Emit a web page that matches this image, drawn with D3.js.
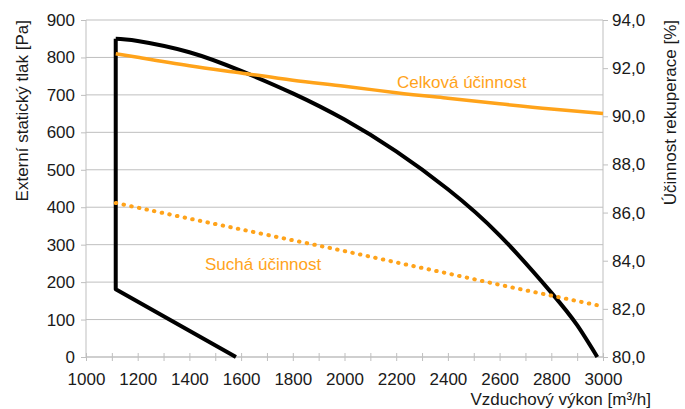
<!DOCTYPE html>
<html>
<head>
<meta charset="utf-8">
<script src="https://cdn.jsdelivr.net/npm/d3@7"></script>
<style>
  body { margin: 0; background: #fff; }
  text { font-family: "Liberation Sans", Arial, sans-serif; }
</style>
</head>
<body>
<script>
// chart data
const flowTicks = [1000, 1100, 1200, 1300, 1400, 1500, 1600, 1700, 1800, 1900, 2000,
                   2100, 2200, 2300, 2400, 2500, 2600, 2700, 2800, 2900, 3000];
const pressureTicks = [0, 100, 200, 300, 400, 500, 600, 700, 800, 900];
const effTicks = [80, 82, 84, 86, 88, 90, 92, 94];

// fan curve (black), flow [m3/h] vs pressure [Pa]
const fanFlow     = [1115, 1200, 1400, 1600, 1800, 2000, 2200, 2400, 2600, 2800, 2900, 2978];
const fanPressure = [850,  844,  814,  764,  704,  634,  549,  448,  325,  172,  85,   0];

// lower boundary (black)
const limitFlow     = [1115, 1115, 1580];
const limitPressure = [850,  181,  0];

// total efficiency (solid orange) [%]
const totalFlow = [1115, 1200, 1400, 1600, 1800, 2000, 2200, 2400, 2600, 2800, 3000];
const totalEff  = [92.6, 92.45, 92.1, 91.8, 91.5, 91.25, 90.98, 90.75, 90.52, 90.3, 90.12];

// dry efficiency (dotted orange) [%]
const dryFlow = [1115, 1400, 1600, 1800, 2000, 2200, 2400, 2600, 2800, 3000];
const dryEff  = [86.4, 85.75, 85.3, 84.85, 84.4, 83.93, 83.47, 83.0, 82.55, 82.1];

const width = 685, height = 409;
const margin = {left: 86, right: 82, top: 20, bottom: 52};
const grey = "#bfbfbf", ink = "#1a1a1a", orange = "#ffa31a";
const fs = 17;

const svg = d3.select("body").append("svg")
    .attr("width", width).attr("height", height);

const x = d3.scaleLinear().domain([1000, 3000]).range([margin.left, width - margin.right]);
const yL = d3.scaleLinear().domain([0, 900]).range([height - margin.bottom, margin.top]);
const yR = d3.scaleLinear().domain([80, 94]).range([height - margin.bottom, margin.top]);

// horizontal gridlines
svg.append("g").selectAll("line").data(pressureTicks).enter().append("line")
    .attr("x1", x(1000)).attr("x2", x(3000))
    .attr("y1", d => yL(d)).attr("y2", d => yL(d))
    .attr("stroke", grey).attr("stroke-width", 1);

// left axis
const gL = svg.append("g").attr("transform", "translate(" + x(1000) + ",0)")
    .call(d3.axisLeft(yL).tickValues(pressureTicks).tickSize(5).tickPadding(6));
// right axis
const gR = svg.append("g").attr("transform", "translate(" + x(3000) + ",0)")
    .call(d3.axisRight(yR).tickValues(effTicks).tickSize(5).tickPadding(4)
        .tickFormat(d => d3.format(".1f")(d).replace(".", ",")));
// bottom axis with crossing ticks
const gB = svg.append("g").attr("transform", "translate(0," + yL(0) + ")")
    .call(d3.axisBottom(x).tickValues(flowTicks).tickSize(4).tickPadding(12)
        .tickFormat(d => d % 200 === 0 ? d : ""));
gB.selectAll(".tick line").attr("y1", -4);

[gL, gR, gB].forEach(g => {
  g.select(".domain").attr("stroke", grey);
  g.selectAll(".tick line").attr("stroke", grey);
  g.selectAll("text").attr("fill", ink).style("font-size", fs + "px")
      .style("font-family", "'Liberation Sans', Arial, sans-serif");
});
gL.select(".domain").attr("d", "M0," + yL(0) + "V" + yL(900));
gR.select(".domain").attr("d", "M0," + yR(80) + "V" + yR(94));
gB.select(".domain").attr("d", "M" + x(1000) + ",0H" + x(3000));

const lineL = d3.line().x(d => x(d[0])).y(d => yL(d[1]));
const lineR = d3.line().x(d => x(d[0])).y(d => yR(d[1])).curve(d3.curveNatural);

// series
svg.append("path").datum(d3.zip(limitFlow, limitPressure))
    .attr("d", lineL).attr("fill", "none").attr("stroke", "#000")
    .attr("stroke-width", 4).attr("stroke-linejoin", "round");
svg.append("path").datum(d3.zip(fanFlow, fanPressure))
    .attr("d", lineL.curve(d3.curveNatural)).attr("fill", "none").attr("stroke", "#000")
    .attr("stroke-width", 4);
svg.append("path").datum(d3.zip(totalFlow, totalEff))
    .attr("d", lineR).attr("fill", "none").attr("stroke", orange)
    .attr("stroke-width", 3.5);
svg.append("path").datum(d3.zip(dryFlow, dryEff))
    .attr("d", lineR).attr("fill", "none").attr("stroke", orange)
    .attr("stroke-width", 4).attr("stroke-linecap", "round")
    .attr("stroke-dasharray", "0.5 7.3");

// series labels
svg.append("text").attr("x", 397).attr("y", 88).attr("fill", orange)
    .style("font-size", fs + "px").text("Celková účinnost");
svg.append("text").attr("x", 205).attr("y", 270).attr("fill", orange)
    .style("font-size", fs + "px").text("Suchá účinnost");

// axis titles
svg.append("text").attr("transform", "translate(28,20) rotate(-90)")
    .attr("text-anchor", "end").attr("fill", ink).style("font-size", fs + "px")
    .text("Externí statický tlak [Pa]");
svg.append("text").attr("transform", "translate(676,20) rotate(-90)")
    .attr("text-anchor", "end").attr("fill", ink).style("font-size", fs + "px")
    .text("Účinnost rekuperace [%]");
svg.append("text").attr("x", 651).attr("y", 405)
    .attr("text-anchor", "end").attr("fill", ink).style("font-size", fs + "px")
    .text("Vzduchový výkon [m³/h]");
</script>
</body>
</html>
